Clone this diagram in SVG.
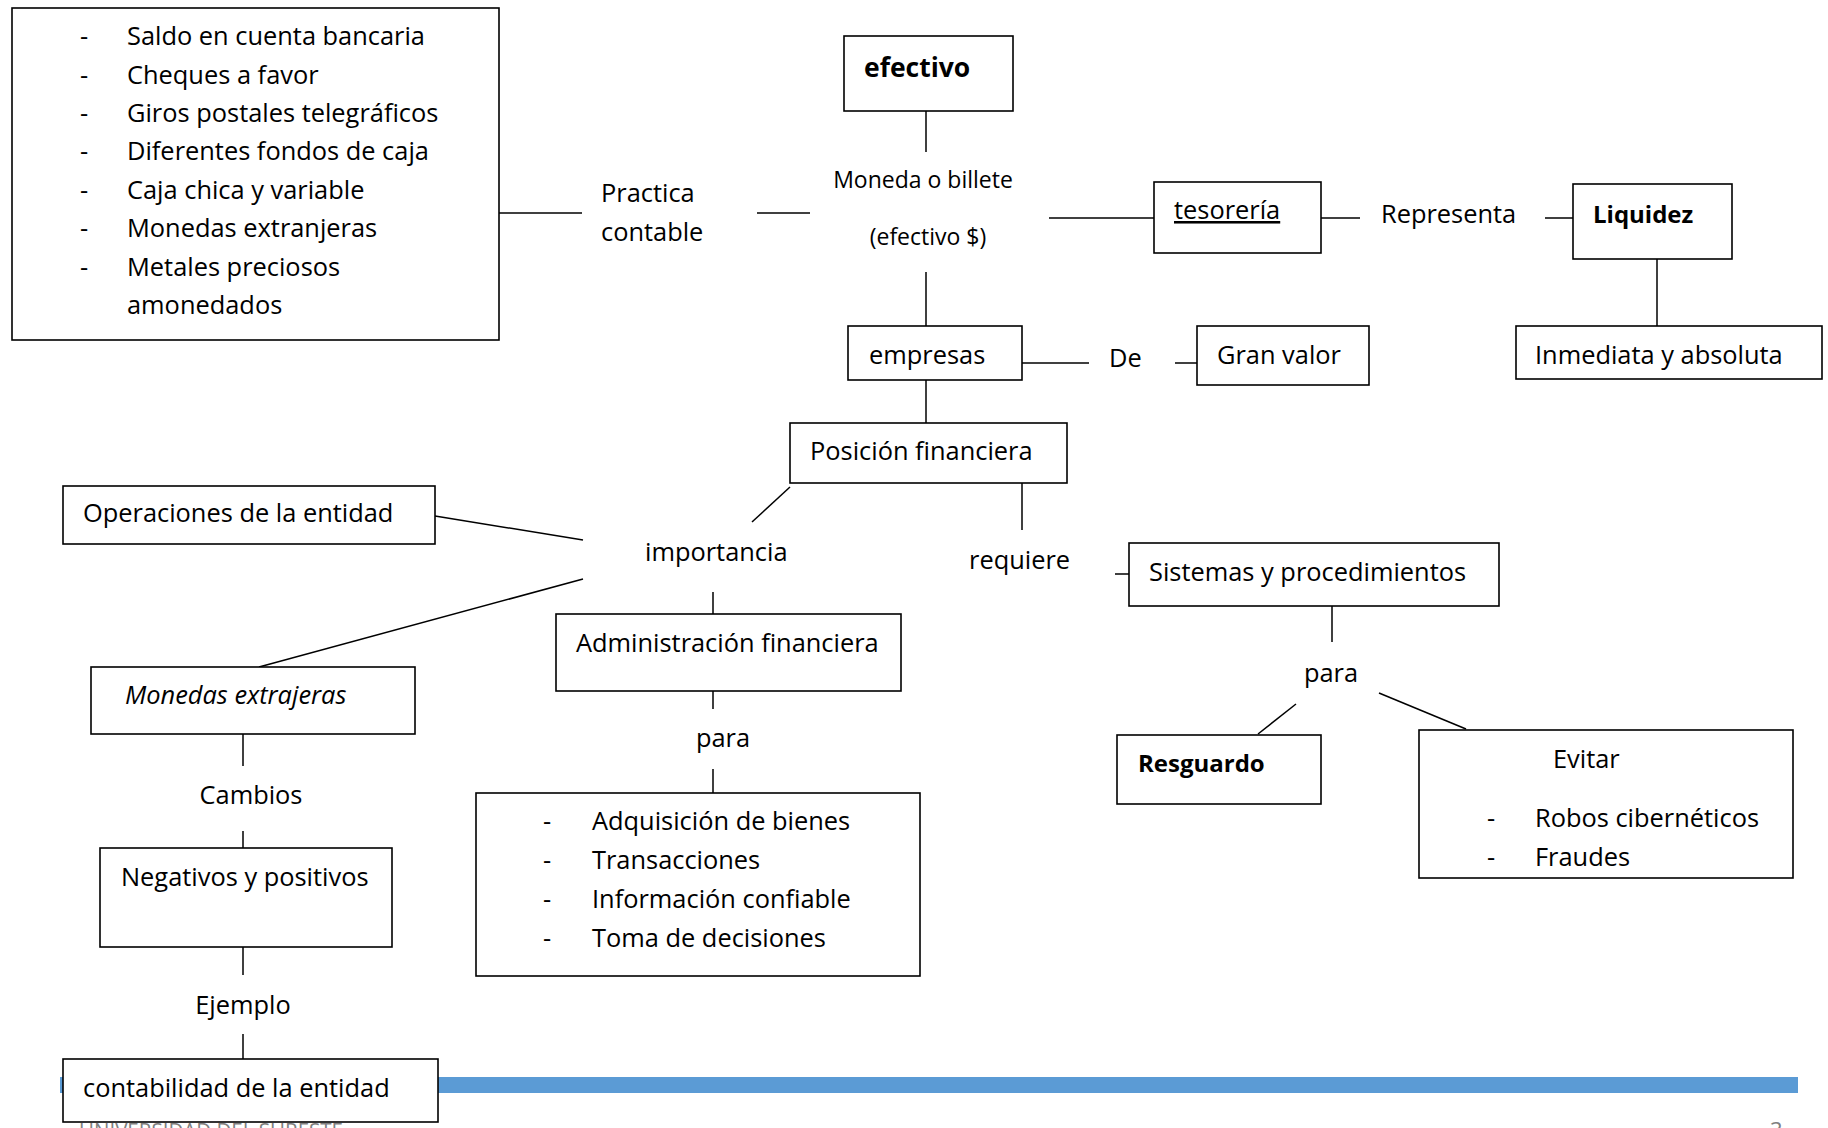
<svg xmlns="http://www.w3.org/2000/svg" width="1828" height="1128" viewBox="0 0 1828 1128">
<style>
.box{fill:#fff;stroke:#000;stroke-width:1.6}
text{font-family:"Open Sans","Liberation Sans",sans-serif;font-size:25.4px;fill:#000}
.s{font-size:23px}
.b{font-weight:bold;font-size:24px}
.bb{font-weight:bold;font-size:26.5px}
.i{font-style:italic}
.g{fill:#808080;font-size:22px}
#connectors line{stroke:#000;stroke-width:1.5}
</style>
<rect width="1828" height="1128" fill="#fff"/>
<g id="footer">
<rect x="60" y="1077" width="1738" height="16" fill="#5B9BD5"/>
<text class="g" x="79" y="1139" textLength="264" lengthAdjust="spacingAndGlyphs">UNIVERSIDAD DEL SURESTE</text>
<text class="g" x="1770" y="1138">3</text>
</g>
<g id="connectors">
<line x1="499" y1="213" x2="582" y2="213"/>
<line x1="757" y1="213" x2="810" y2="213"/>
<line x1="926" y1="111" x2="926" y2="152"/>
<line x1="1049" y1="218" x2="1154" y2="218"/>
<line x1="1321" y1="218" x2="1360" y2="218"/>
<line x1="1545" y1="218" x2="1573" y2="218"/>
<line x1="1657" y1="259" x2="1657" y2="326"/>
<line x1="926" y1="272" x2="926" y2="326"/>
<line x1="1022" y1="363" x2="1089" y2="363"/>
<line x1="1175" y1="363" x2="1197" y2="363"/>
<line x1="926" y1="380" x2="926" y2="423"/>
<line x1="790" y1="487" x2="752" y2="522"/>
<line x1="1022" y1="483" x2="1022" y2="530"/>
<line x1="1115" y1="574" x2="1129" y2="574"/>
<line x1="1332" y1="606" x2="1332" y2="642"/>
<line x1="1296" y1="704" x2="1258" y2="734"/>
<line x1="1379" y1="693" x2="1466" y2="729"/>
<line x1="435" y1="516" x2="583" y2="540"/>
<line x1="583" y1="579" x2="259" y2="667"/>
<line x1="713" y1="592" x2="713" y2="614"/>
<line x1="713" y1="691" x2="713" y2="709"/>
<line x1="713" y1="769" x2="713" y2="793"/>
<line x1="243" y1="734" x2="243" y2="766"/>
<line x1="243" y1="831" x2="243" y2="848"/>
<line x1="243" y1="947" x2="243" y2="975"/>
<line x1="243" y1="1034" x2="243" y2="1059"/>
</g>
<g id="n-lista-efectivo">
<rect class="box" x="12" y="8" width="487" height="332"/>
<text x="80" y="45">-</text><text x="127" y="45">Saldo en cuenta bancaria</text>
<text x="80" y="84">-</text><text x="127" y="84">Cheques a favor</text>
<text x="80" y="122">-</text><text x="127" y="122">Giros postales telegráficos</text>
<text x="80" y="160">-</text><text x="127" y="160">Diferentes fondos de caja</text>
<text x="80" y="199">-</text><text x="127" y="199">Caja chica y variable</text>
<text x="80" y="237">-</text><text x="127" y="237">Monedas extranjeras</text>
<text x="80" y="276">-</text><text x="127" y="276">Metales preciosos</text>
<text x="127" y="314">amonedados</text>
</g>
<g id="l-practica">
<text x="601" y="202">Practica</text>
<text x="601" y="241">contable</text>
</g>
<g id="n-efectivo">
<rect class="box" x="844" y="36" width="169" height="75"/>
<text class="bb" x="864" y="77">efectivo</text>
</g>
<g id="l-moneda">
<text class="s" x="923" y="188" text-anchor="middle">Moneda o billete</text>
<text class="s" x="928" y="245" text-anchor="middle">(efectivo $)</text>
</g>
<g id="n-tesoreria">
<rect class="box" x="1154" y="182" width="167" height="71"/>
<text x="1174" y="219" text-decoration="underline">tesorería</text>
</g>
<g id="l-representa"><text x="1381" y="223">Representa</text></g>
<g id="n-liquidez">
<rect class="box" x="1573" y="184" width="159" height="75"/>
<text class="b" x="1593" y="223">Liquidez</text>
</g>
<g id="n-inmediata">
<rect class="box" x="1516" y="326" width="306" height="53"/>
<text x="1535" y="364">Inmediata y absoluta</text>
</g>
<g id="n-empresas">
<rect class="box" x="848" y="326" width="174" height="54"/>
<text x="869" y="364">empresas</text>
</g>
<g id="l-de"><text x="1109" y="367">De</text></g>
<g id="n-granvalor">
<rect class="box" x="1197" y="326" width="172" height="59"/>
<text x="1217" y="364">Gran valor</text>
</g>
<g id="n-posicion">
<rect class="box" x="790" y="423" width="277" height="60"/>
<text x="810" y="460">Posición financiera</text>
</g>
<g id="l-importancia"><text x="645" y="561">importancia</text></g>
<g id="l-requiere"><text x="969" y="569">requiere</text></g>
<g id="n-sistemas">
<rect class="box" x="1129" y="543" width="370" height="63"/>
<text x="1149" y="581">Sistemas y procedimientos</text>
</g>
<g id="l-para2"><text x="1331" y="682" text-anchor="middle">para</text></g>
<g id="n-resguardo">
<rect class="box" x="1117" y="735" width="204" height="69"/>
<text class="b" x="1138" y="772">Resguardo</text>
</g>
<g id="n-evitar">
<rect class="box" x="1419" y="730" width="374" height="148"/>
<text x="1553" y="768">Evitar</text>
<text x="1487" y="827">-</text><text x="1535" y="827">Robos cibernéticos</text>
<text x="1487" y="866">-</text><text x="1535" y="866">Fraudes</text>
</g>
<g id="n-operaciones">
<rect class="box" x="63" y="486" width="372" height="58"/>
<text x="83" y="522">Operaciones de la entidad</text>
</g>
<g id="n-administracion">
<rect class="box" x="556" y="614" width="345" height="77"/>
<text x="576" y="652">Administración financiera</text>
</g>
<g id="l-para1"><text x="723" y="747" text-anchor="middle">para</text></g>
<g id="n-lista-para">
<rect class="box" x="476" y="793" width="444" height="183"/>
<text x="543" y="830">-</text><text x="592" y="830">Adquisición de bienes</text>
<text x="543" y="869">-</text><text x="592" y="869">Transacciones</text>
<text x="543" y="908">-</text><text x="592" y="908">Información confiable</text>
<text x="543" y="947">-</text><text x="592" y="947">Toma de decisiones</text>
</g>
<g id="n-monedas">
<rect class="box" x="91" y="667" width="324" height="67"/>
<text class="i" x="125" y="704">Monedas extrajeras</text>
</g>
<g id="l-cambios"><text x="251" y="804" text-anchor="middle">Cambios</text></g>
<g id="n-negativos">
<rect class="box" x="100" y="848" width="292" height="99"/>
<text x="121" y="886">Negativos y positivos</text>
</g>
<g id="l-ejemplo"><text x="243" y="1014" text-anchor="middle">Ejemplo</text></g>
<g id="n-contabilidad">
<rect class="box" x="63" y="1059" width="375" height="63"/>
<text x="83" y="1097">contabilidad de la entidad</text>
</g>
</svg>
